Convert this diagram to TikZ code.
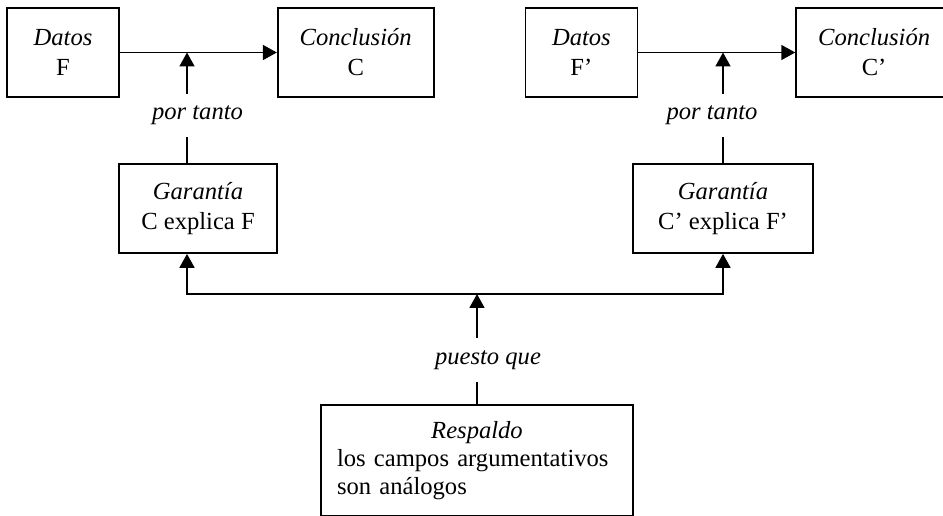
\documentclass[tikz,border=0pt]{standalone}
\usepackage{fontspec}
\setmainfont{Liberation Serif}
\usetikzlibrary{positioning}
\usetikzlibrary{arrows.meta}

\begin{document}
\begin{tikzpicture}[x=0.02cm, y=-0.02cm,
    box/.style={draw, line width=1pt, align=center, minimum height=1.78cm,
        font=\fontsize{14}{17}\selectfont},
    paso/.style={inner sep=0pt, minimum height=0.86cm,
        font=\fontsize{14}{17}\selectfont\itshape},
    conn/.style={line width=1pt},
    flecha/.style={-{Triangle[length=2.8mm, width=3mm]}},
    dosflechas/.style={{Triangle[length=2.8mm, width=3mm]}-{Triangle[length=2.8mm, width=3mm]}}]
    \clip (0,0) rectangle (943,516);

    % Nodes
    \node[box, minimum width=2.24cm] (datosF) at (63,52.5) {\textit{Datos}\\F};
    \node[box, minimum width=3.12cm, right=3.14cm of datosF] (conclC) {\textit{Conclusión}\\C};
    \node[box, minimum width=2.24cm, right=1.8cm of conclC] (datosFp) {\textit{Datos}\\F’};
    \node[box, minimum width=3.12cm, right=3.14cm of datosFp] (conclCp) {\textit{Conclusión}\\C’};

    \node[box, minimum width=3.16cm] (garC) at (198,208.5) {\textit{Garantía}\\C explica F};
    \node[box, minimum width=3.6cm] (garCp) at (723,208.5) {\textit{Garantía}\\C’ explica F’};

    \node[box, minimum width=6.24cm, minimum height=2.22cm, text width=5.6cm, align=left,
        font=\fontsize{14}{16}\selectfont] (resp) at (477,460.5)
        {\hspace*{\fill}\textit{Respaldo}\hspace*{\fill}\mbox{}\\los campos argumentativos\\son análogos};

    \node[paso] (porTanto) at (197.5,115.5) {por tanto};
    \node[paso] (porTantop) at (712,115.5) {por tanto};
    \node[paso, minimum height=0.88cm] (puesto) at (488,360) {puesto que};

    % Junctions
    \coordinate (jC) at (187,52.5);
    \coordinate (jCp) at (723,52.5);
    \coordinate (jR) at (477,294);

    % Arrows
    \draw[conn, flecha] (datosF) -- (conclC);
    \draw[conn, flecha] (datosFp) -- (conclCp);
    \draw[conn, flecha] (jC |- porTanto.north) -- (jC);
    \draw[conn] (jC |- garC.north) -- (jC |- porTanto.south);
    \draw[conn, flecha] (jCp |- porTantop.north) -- (jCp);
    \draw[conn] (garCp.north) -- (jCp |- porTantop.south);
    \draw[conn, dosflechas] (jC |- garC.south) |- (jR) -| (garCp.south);
    \draw[conn, flecha] (jR |- puesto.north) -- (jR);
    \draw[conn] (resp.north) -- (jR |- puesto.south);
\end{tikzpicture}
\end{document}
